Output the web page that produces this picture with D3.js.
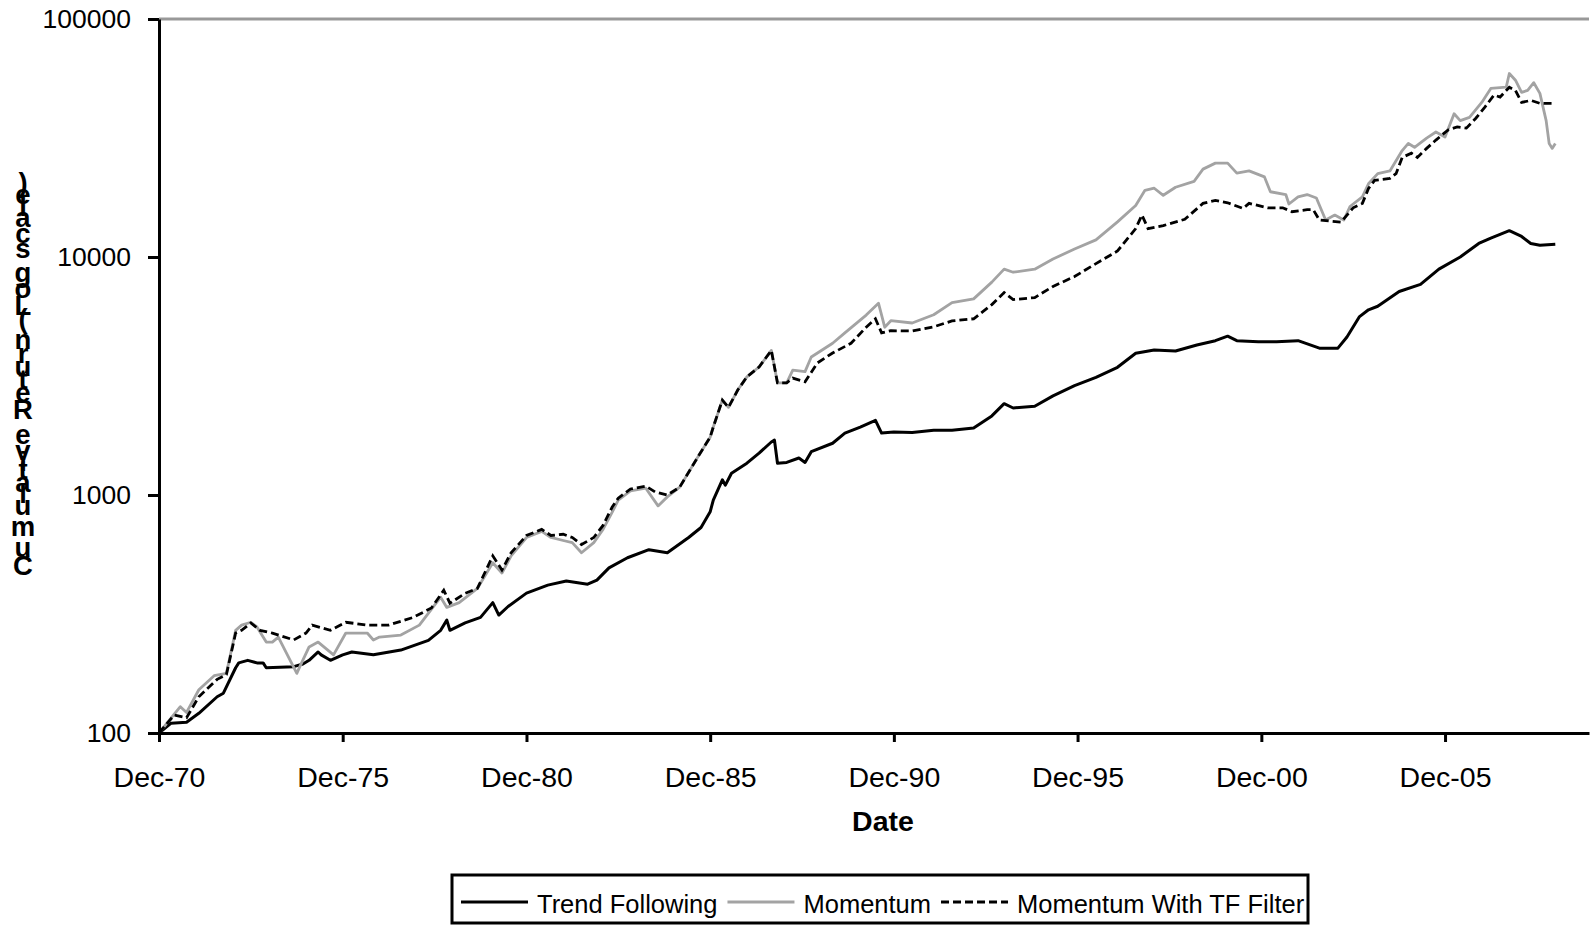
<!DOCTYPE html>
<html lang="en">
<head>
<meta charset="UTF-8" />
<title>Cumulative Return (Log scale)</title>
<script src="https://cdn.jsdelivr.net/npm/d3@7"></script>
<style>
  body { margin: 0; background: #fff; }
  svg { display: block; font-family: "Liberation Sans", Arial, sans-serif; }
  .axis .tick text { fill: #000; }
  .x.axis .tick text { font-size: 28.5px; }
  .y.axis .tick text { font-size: 26.5px; }
  .axis path, .axis line { stroke: #000; stroke-width: 3; }
  .legend text { font-size: 25.5px; fill: #000; }
</style>
</head>
<body>
<svg width="1591" height="926"></svg>
<script>
const seriesNames = ['Trend Following', 'Momentum', 'Momentum With TF Filter'];

const trendFollowing = [
  ['1970-12',100],['1971-04',110],['1971-09',111],['1972-01',121],['1972-07',142],['1972-09',147],
  ['1973-01',188],['1973-02',197],['1973-05',202],['1973-08',197],['1973-10',197],['1973-11',188],
  ['1974-08',190],['1974-11',195],['1975-01',202],['1975-04',219],['1975-05',213],['1975-08',202],
  ['1975-12',213],['1976-03',219],['1976-10',213],['1977-07',223],['1978-04',245],['1978-08',270],
  ['1978-10',298],['1978-11',270],['1979-04',290],['1979-09',306],['1980-01',353],['1980-03',313],
  ['1980-06',340],['1980-12',387],['1981-07',418],['1982-01',435],['1982-08',422],['1982-11',439],
  ['1983-03',494],['1983-09',545],['1984-04',589],['1984-10',572],['1985-05',663],['1985-09',730],
  ['1985-12',850],['1986-01',952],['1986-04',1158],['1986-05',1100],['1986-07',1234],['1986-12',1360],
  ['1987-04',1500],['1987-08',1670],['1987-09',1700],['1987-10',1360],['1988-01',1370],['1988-05',1430],
  ['1988-07',1370],['1988-09',1520],['1989-04',1650],['1989-08',1820],['1990-01',1930],['1990-06',2060],
  ['1990-08',1820],['1990-12',1840],['1991-06',1830],['1992-01',1870],['1992-07',1870],['1993-02',1910],
  ['1993-08',2150],['1993-12',2420],['1994-03',2320],['1994-10',2360],['1995-04',2610],['1995-11',2880],
  ['1996-06',3120],['1997-01',3440],['1997-07',3940],['1998-01',4070],['1998-08',4030],['1999-03',4270],
  ['1999-09',4450],['2000-01',4650],['2000-04',4450],['2000-11',4400],['2001-05',4400],['2001-12',4450],
  ['2002-07',4140],['2003-01',4140],['2003-04',4610],['2003-08',5600],['2003-11',6000],['2004-02',6210],
  ['2004-09',7160],['2005-04',7670],['2005-10',8890],['2006-05',10000],['2006-11',11400],['2007-03',12000],
  ['2007-09',12900],['2008-01',12200],['2008-04',11400],['2008-07',11200],['2008-12',11300]
];

const momentum = [
  ['1970-12',100],['1971-07',129],['1971-09',122],['1972-01',152],['1972-06',174],['1972-10',178],
  ['1973-01',270],['1973-03',284],['1973-06',292],['1973-08',279],['1973-11',241],['1974-01',241],
  ['1974-03',253],['1974-09',178],['1974-10',190],['1975-01',230],['1975-04',241],['1975-09',213],
  ['1976-01',263],['1976-08',263],['1976-10',246],['1976-12',253],['1977-07',258],['1978-01',284],
  ['1978-08',372],['1978-10',337],['1979-02',353],['1979-08',405],['1980-01',519],['1980-04',470],
  ['1980-07',555],['1980-12',663],['1981-05',703],['1981-08',663],['1981-12',644],['1982-03',631],
  ['1982-06',572],['1982-10',631],['1983-01',717],['1983-04',845],['1983-06',952],['1983-10',1040],
  ['1984-03',1068],['1984-07',900],['1984-10',982],['1985-02',1079],['1985-08',1446],['1985-12',1750],
  ['1986-01',1930],['1986-04',2504],['1986-06',2335],['1986-09',2760],['1986-12',3135],['1987-04',3450],
  ['1987-08',4050],['1987-10',2960],['1988-01',2960],['1988-03',3350],['1988-07',3300],['1988-09',3800],
  ['1989-04',4340],['1989-08',4800],['1990-03',5700],['1990-07',6400],['1990-09',5070],['1990-11',5400],
  ['1991-06',5280],['1992-01',5720],['1992-07',6430],['1993-02',6670],['1993-08',7840],['1993-12',8890],
  ['1994-03',8630],['1994-10',8890],['1995-04',9810],['1995-11',10800],['1996-06',11800],['1997-01',14050],
  ['1997-07',16460],['1997-10',19070],['1998-01',19450],['1998-04',18170],['1998-08',19640],['1999-02',20800],
  ['1999-05',23400],['1999-09',24800],['2000-01',24800],['2000-04',22500],['2000-08',23000],['2001-01',21700],
  ['2001-03',18800],['2001-08',18300],['2001-09',16700],['2001-12',17900],['2002-03',18300],['2002-06',17700],
  ['2002-09',14300],['2002-12',15000],['2003-03',14300],['2003-05',16300],['2003-09',17900],['2003-11',20300],
  ['2004-02',22400],['2004-06',23000],['2004-10',28000],['2004-12',30000],['2005-02',28900],['2005-06',31600],
  ['2005-09',33500],['2005-12',31900],['2006-03',40000],['2006-05',37400],['2006-08',38600],['2006-12',44600],
  ['2007-03',51100],['2007-08',51700],['2007-09',59000],['2007-11',55300],['2008-01',49200],['2008-03',50100],
  ['2008-05',54000],['2008-07',48700],['2008-09',37400],['2008-10',30000],['2008-11',28600],['2008-12',30000]
];

const momentumTF = [
  ['1970-12',100],['1971-05',119],['1971-09',116],['1972-01',142],['1972-07',168],['1972-10',176],
  ['1973-01',263],['1973-03',270],['1973-06',290],['1973-09',270],['1974-01',263],['1974-08',246],
  ['1974-12',263],['1975-02',284],['1975-08',270],['1976-01',292],['1976-08',284],['1977-03',284],
  ['1977-11',306],['1978-05',335],['1978-09',398],['1978-11',351],['1979-04',386],['1979-08',405],
  ['1980-01',555],['1980-04',484],['1980-07',572],['1980-12',676],['1981-05',717],['1981-08',676],
  ['1981-12',684],['1982-03',663],['1982-06',619],['1982-10',663],['1983-01',745],['1983-04',888],
  ['1983-06',970],['1983-10',1060],['1984-03',1090],['1984-06',1030],['1984-10',1000],['1985-02',1079],
  ['1985-08',1446],['1985-12',1750],['1986-01',1930],['1986-04',2504],['1986-06',2335],['1986-09',2760],
  ['1986-12',3135],['1987-04',3450],['1987-08',4050],['1987-10',2960],['1988-01',2960],['1988-03',3100],
  ['1988-07',2990],['1988-11',3590],['1989-04',3950],['1989-10',4340],['1990-03',5070],['1990-06',5500],
  ['1990-08',4800],['1990-11',4900],['1991-06',4890],['1992-01',5090],['1992-07',5390],['1993-02',5500],
  ['1993-08',6310],['1993-12',7090],['1994-03',6620],['1994-10',6750],['1995-04',7520],['1995-11',8280],
  ['1996-06',9380],['1997-01',10600],['1997-07',13160],['1997-09',15000],['1997-11',13160],['1998-04',13550],
  ['1998-11',14400],['1999-05',16800],['1999-09',17300],['2000-01',16900],['2000-06',16000],['2000-08',16800],
  ['2001-02',16100],['2001-07',16100],['2001-10',15500],['2002-03',15800],['2002-05',15800],['2002-07',14300],
  ['2003-02',14000],['2003-06',16100],['2003-09',16800],['2003-11',19400],['2004-01',21000],['2004-06',21400],
  ['2004-08',22400],['2004-10',26200],['2005-01',27300],['2005-03',26200],['2005-06',28600],['2005-09',31000],
  ['2006-01',34200],['2006-04',35200],['2006-07',34800],['2006-10',38200],['2007-01',42600],['2007-04',47900],
  ['2007-06',47000],['2007-09',51700],['2007-11',50100],['2008-01',44600],['2008-04',45500],['2008-07',44200],
  ['2008-12',44200]
];

const xTickDates = ['1970-12','1975-12','1980-12','1985-12','1990-12','1995-12','2000-12','2005-12'];
const xTickLabels = ['Dec-70','Dec-75','Dec-80','Dec-85','Dec-90','Dec-95','Dec-00','Dec-05'];
const yTicks = [100, 1000, 10000, 100000];

const svg = d3.select('svg');
const parse = d3.timeParse('%Y-%m');
const plot = { left: 159, right: 1589, top: 19, bottom: 733 };

const x = d3.scaleTime()
  .domain([parse('1970-12'), parse('2009-11')])
  .range([plot.left, plot.right]);

const y = d3.scaleLog()
  .domain([100, 100000])
  .range([plot.bottom, plot.top]);

// top border of plot area
svg.append('line')
  .attr('x1', plot.left).attr('x2', plot.right)
  .attr('y1', plot.top).attr('y2', plot.top)
  .attr('stroke', '#999').attr('stroke-width', 2.8);

// lines
const line = d3.line()
  .x(d => x(parse(d[0])))
  .y(d => y(d[1]));

svg.append('path').datum(trendFollowing)
  .attr('d', line).attr('fill', 'none')
  .attr('stroke', '#000').attr('stroke-width', 3).attr('stroke-linejoin', 'round');

svg.append('path').datum(momentum)
  .attr('d', line).attr('fill', 'none')
  .attr('stroke', '#a3a3a3').attr('stroke-width', 2.8).attr('stroke-linejoin', 'round');

svg.append('path').datum(momentumTF)
  .attr('d', line).attr('fill', 'none')
  .attr('stroke', '#000').attr('stroke-width', 2.8)
  .attr('stroke-dasharray', '8,4');

// axes
svg.append('g')
  .attr('class', 'x axis')
  .attr('transform', `translate(0,${plot.bottom})`)
  .call(d3.axisBottom(x)
    .tickValues(xTickDates.map(parse))
    .tickFormat((d, i) => xTickLabels[i])
    .tickSize(9).tickPadding(25).tickSizeOuter(0));

svg.append('g')
  .attr('class', 'y axis')
  .attr('transform', `translate(${plot.left},0)`)
  .call(d3.axisLeft(y)
    .tickValues(yTicks)
    .tickFormat(d3.format('d'))
    .tickSize(11).tickPadding(17).tickSizeOuter(0));

// x title
svg.append('text')
  .attr('x', 883).attr('y', 831)
  .attr('text-anchor', 'middle')
  .attr('font-size', 28.5).attr('font-weight', 'bold')
  .text('Date');

// y title: upright letters stacked bottom to top
const yLabel = 'Cumulative Return (Log scale)';
const probe = svg.append('text')
  .attr('font-size', 27.5).attr('font-weight', 'bold')
  .style('white-space', 'pre').text(yLabel);
const pn = probe.node();
const charMid = d3.range(yLabel.length).map(i =>
  (pn.getStartPositionOfChar(i).x + pn.getEndPositionOfChar(i).x) / 2);
probe.remove();

const yTitle = svg.append('g');
yLabel.split('').forEach((ch, i) => {
  if (ch === ' ') return;
  yTitle.append('text')
    .attr('x', 23).attr('y', 575 - charMid[i])
    .attr('dy', '0.36em')
    .attr('text-anchor', 'middle')
    .attr('font-size', 27.5).attr('font-weight', 'bold')
    .text(ch);
});

// legend
const legend = svg.append('g').attr('class', 'legend');
legend.append('rect')
  .attr('x', 452).attr('y', 875).attr('width', 856).attr('height', 48)
  .attr('fill', '#fff').attr('stroke', '#000').attr('stroke-width', 3);

const legendStyles = [
  { stroke: '#000', dash: null },
  { stroke: '#a3a3a3', dash: null },
  { stroke: '#000', dash: '8,4' }
];
let lx = 461;
seriesNames.forEach((name, i) => {
  legend.append('line')
    .attr('x1', lx).attr('x2', lx + 67)
    .attr('y1', 902).attr('y2', 902)
    .attr('stroke', legendStyles[i].stroke).attr('stroke-width', 3)
    .attr('stroke-dasharray', legendStyles[i].dash);
  const t = legend.append('text')
    .attr('x', lx + 76).attr('y', 913)
    .text(name);
  lx = lx + 76 + t.node().getComputedTextLength() + 10;
});
</script>
</body>
</html>
